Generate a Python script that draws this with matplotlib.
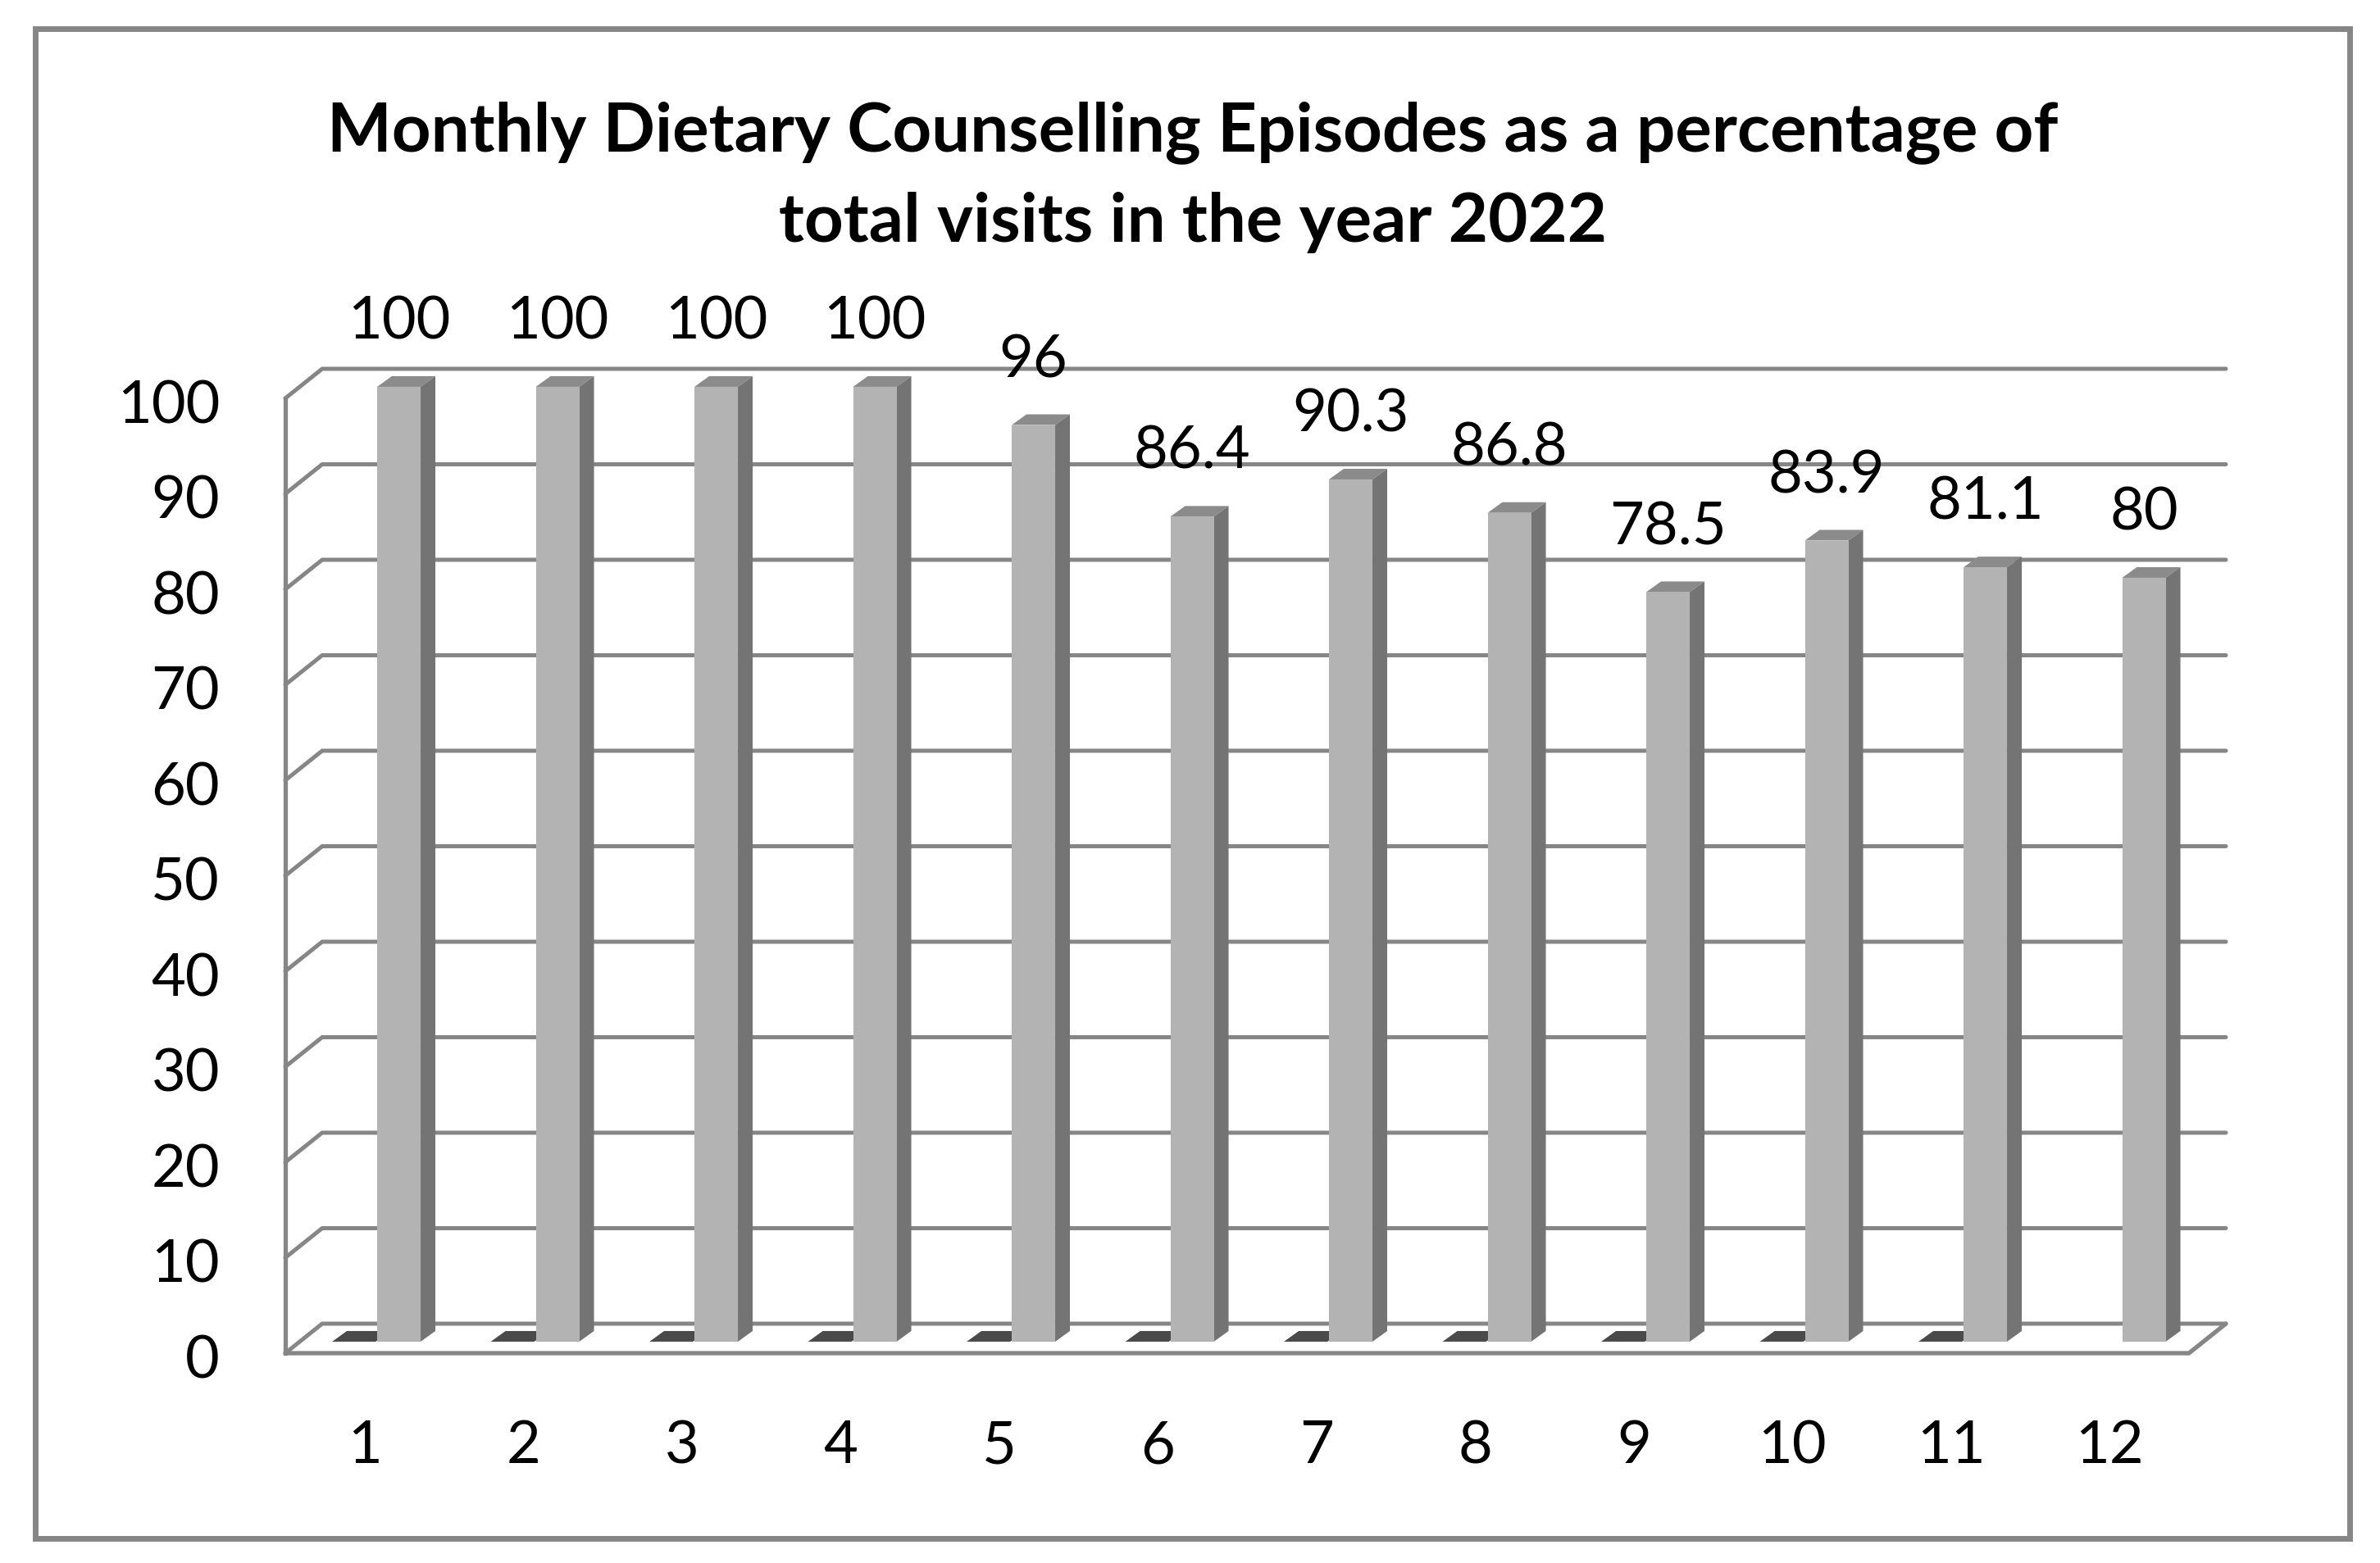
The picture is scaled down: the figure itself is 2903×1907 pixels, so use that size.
import matplotlib
matplotlib.use('Agg')
import matplotlib.pyplot as plt
from matplotlib.patches import Polygon, Rectangle

# chart data
months = ['1', '2', '3', '4', '5', '6', '7', '8', '9', '10', '11', '12']
percentages = [100, 100, 100, 100, 96, 86.4, 90.3, 86.8, 78.5, 83.9, 81.1, 80]
emptySeries = [0, 0, 0, 0, 0, 0, 0, 0, 0, 0, 0, None]
yTicks = [0, 10, 20, 30, 40, 50, 60, 70, 80, 90, 100]
titleLines = ['Monthly Dietary Counselling Episodes as a percentage of',
              'total visits in the year 2022']

plt.rcParams['font.family'] = ['Lato', 'DejaVu Sans']

gridColor = '#868686'
frontColor = '#b3b3b3'
sideColor = '#747474'
topColor = '#8b8b8b'
slabColor = '#4a4a4a'

fig = plt.figure(figsize=(29.03, 19.08), dpi=100)
ax = fig.add_axes([0, 0, 1, 1])
ax.set_xlim(-1.2984, 13.7042)
ax.set_ylim(-21.974, 141.80)
ax.axis('off')

# depth of the 3d box and of the bars
depthX = 0.2326
depthY = 3.09
barBottom = 0.39 * depthY
barWidth = 0.274
barDepthX = 0.093
barDepthY = 1.116
lastX = len(months) + 0.5

# walls and floor
for v in yTicks:
    ax.plot([0.5, 0.5 + depthX, lastX + depthX], [v, v + depthY, v + depthY],
            color=gridColor, lw=3.6, solid_capstyle='round', zorder=1)
ax.plot([0.5, 0.5], [0, yTicks[-1]], color=gridColor, lw=3.8, zorder=1)
ax.plot([0.5, lastX, lastX + depthX], [0, 0, depthY], color=gridColor, lw=3.8,
        solid_capstyle='round', zorder=1)

positions = list(range(1, len(months) + 1))

# empty series, only the flat top shows
for i, v in zip(positions, emptySeries):
    if v is None:
        continue
    left = i + 0.079 - barWidth - 0.01
    y = barBottom + v
    ax.add_patch(Polygon([(left, y), (left + barWidth, y),
                          (left + barWidth + barDepthX, y + barDepthY),
                          (left + barDepthX, y + barDepthY)],
                         closed=True, color=slabColor, lw=0, zorder=3))

lefts = [i + 0.079 for i in positions]
ax.bar(lefts, percentages, width=barWidth, bottom=barBottom, align='edge',
       color=frontColor, lw=0, zorder=5)
for left, v in zip(lefts, percentages):
    top = barBottom + v
    ax.add_patch(Polygon([(left, top), (left + barWidth, top),
                          (left + barWidth + barDepthX, top + barDepthY),
                          (left + barDepthX, top + barDepthY)],
                         closed=True, color=topColor, lw=0, zorder=4))
    ax.add_patch(Polygon([(left + barWidth, barBottom),
                          (left + barWidth + barDepthX, barBottom + barDepthY),
                          (left + barWidth + barDepthX, top + barDepthY),
                          (left + barWidth, top)],
                         closed=True, color=sideColor, lw=0, zorder=4))
    ax.text(left + barWidth / 2, top + 5.1, '{:g}'.format(v), ha='center',
            va='baseline', fontsize=52, color='black', zorder=6)

# axis labels
for v in yTicks:
    ax.text(0.0866, v - 2.5, str(v), ha='right', va='baseline', fontsize=52)
for i, m in zip(positions, months):
    ax.text(i, -11.42, m, ha='center', va='baseline', fontsize=52)

# title
fig.text(1455 / 2903, 1 - 184 / 1908, titleLines[0], ha='center', va='baseline',
         fontsize=60, fontweight='bold')
fig.text(1455 / 2903, 1 - 295 / 1908, titleLines[1], ha='center', va='baseline',
         fontsize=60, fontweight='bold')

# chart border
fig.patches.append(Rectangle((43 / 2903, 1 - 1878 / 1908), (2866 - 43) / 2903,
                             (1878 - 36) / 1908, transform=fig.transFigure,
                             fill=False, ec=gridColor, lw=5))

fig.savefig('out.png', dpi=100)
